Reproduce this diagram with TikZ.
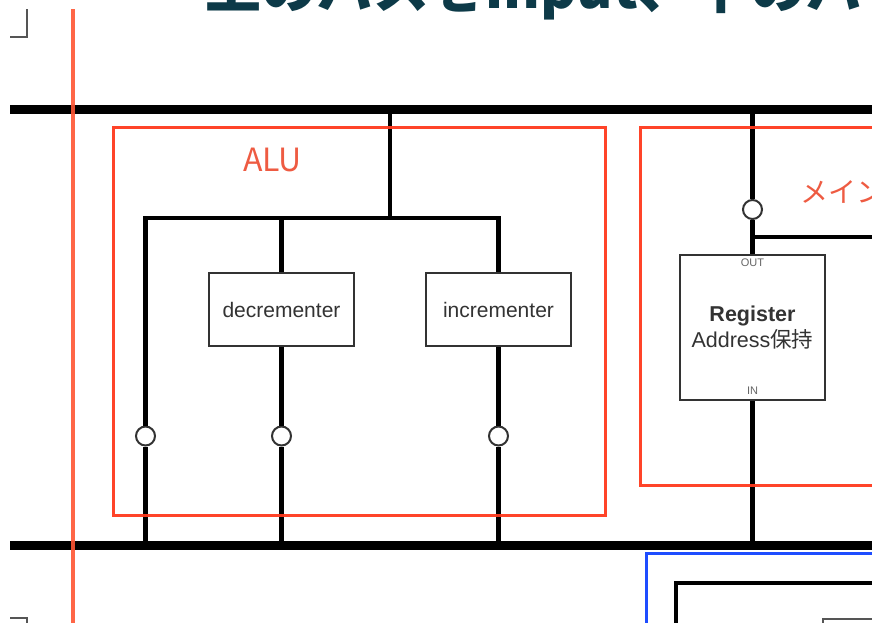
\documentclass[tikz,border=0pt]{standalone}
\usepackage{fontspec}
\setmainfont{Liberation Sans}
\newfontfamily\cjk{Noto Sans CJK JP}
\definecolor{titlecol}{HTML}{0D3A48}
\definecolor{redc}{HTML}{FF3A1E}
\definecolor{redtxt}{HTML}{EE5B42}
\definecolor{redv}{HTML}{FF5533}
\definecolor{bluec}{HTML}{1E4DFF}
\definecolor{boxc}{HTML}{333333}
\definecolor{markc}{HTML}{555555}
\tikzset{
  bus/.style={line width=8.5pt, black, line cap=butt},
  wire/.style={line width=4.5pt, black, line join=miter, line cap=butt},
  unit/.style={draw=boxc, line width=1.5pt, fill=white, minimum width=145pt, minimum height=73pt, inner sep=0pt, font=\fontsize{21}{26}\selectfont, text=boxc},
  regbox/.style={draw=boxc, line width=1.5pt, fill=white, minimum width=145pt, minimum height=145pt, inner sep=0pt, align=center, font=\fontsize{21.5}{26}\selectfont, text=boxc},
  port/.style={circle, draw=boxc, line width=2pt, fill=white, minimum size=19pt, inner sep=0pt},
  redframe/.style={draw=redc, line width=3pt, opacity=0.95},
  tinylab/.style={font=\fontsize{11}{12}\selectfont, text=black!60, inner sep=0pt},
  cornermark/.style={draw=markc, line width=2pt},
}
\begin{document}
\begin{tikzpicture}[x=1pt, y=-1pt]
\useasboundingbox (0,0) rectangle (872,622);
\clip (0,0) rectangle (872,622);
% title
\node[anchor=base west, text=titlecol, font=\cjk\bfseries\fontsize{56}{60}\selectfont, inner sep=0pt] (title) at (205,8.5) {上のバスをinput、下のバ};
% corner marks
\draw[cornermark] (10,37) -| (27,9);
\draw[cornermark] (10,618) -| (27,630);
\draw[cornermark] (823,630) |- (880,619);
% buses
\coordinate (busTL) at (10,109.5);
\coordinate (busTR) at (872,109.5);
\coordinate (busBL) at (10,545.5);
\coordinate (busBR) at (872,545.5);
\draw[bus] (busTL) -- (busTR);
\draw[bus] (busBL) -- (busBR);
% blue area
\draw[draw=bluec, line width=3pt] (646,640) |- (900,553);
\draw[black, line width=4pt] (675.5,640) |- (900,582.5);
% ALU units
\node[unit] (dec) at (281.5,309.5) {decrementer};
\node[unit] (inc) at (498.5,309.5) {incrementer};
\node[port] (c1) at (145.5,436) {};
\node[port] (c2) at (281.5,436) {};
\node[port] (c3) at (498.5,436) {};
\coordinate (t0) at (390,109.5);
\coordinate (j0) at (390,218);
\coordinate (jl) at (145.5,218);
\coordinate (jr) at (498.5,218);
\coordinate (b1) at (145.5,545.5);
\coordinate (b2) at (281.5,545.5);
\coordinate (b3) at (498.5,545.5);
\draw[wire] (t0) -- (j0);
\draw[wire] (c1.north) -- (jl) -- (jr) -- (inc.north);
\draw[wire] (dec.north) -- (dec.north |- jl);
\draw[wire] (dec.south) -- (c2.north);
\draw[wire] (inc.south) -- (c3.north);
\draw[wire] (c1.south) -- (b1);
\draw[wire] (c2.south) -- (b2);
\draw[wire] (c3.south) -- (b3);
% register
\node[regbox] (reg) at (752.5,327.5) {\textbf{Register}\\Address{\cjk 保持}};
\node[tinylab, anchor=north] (outl) at ([yshift=-4pt]reg.north) {OUT};
\node[tinylab, anchor=south] (inl) at ([yshift=6pt]reg.south) {IN};
\node[port] (c4) at (752.5,209.5) {};
\coordinate (t1) at (752.5,109.5);
\coordinate (b4) at (752.5,545.5);
\coordinate (jm) at (752.5,237);
\coordinate (mr) at (880,237);
\draw[wire] (t1) -- (c4.north);
\draw[wire] (c4.south) -- (reg.north);
\draw[wire] (jm) -- (mr);
\draw[wire] (reg.south) -- (b4);
% red frames
\draw[redframe] (113,127) rectangle (605,515);
\node[text=redtxt, font=\cjk\fontsize{32}{36}\selectfont, inner sep=0pt] (alulabel) at (272.5,159.5) {ALU};
\draw[redframe] (640,127) rectangle (900,485);
\node[anchor=west, text=redtxt, font=\cjk\fontsize{28}{32}\selectfont, inner sep=0pt] (memlabel) at (800,192) {メイン};
% red vertical guide
\draw[draw=redv, line width=3.5pt, opacity=0.9] (73,9) -- (73,640);
\end{tikzpicture}
\end{document}
